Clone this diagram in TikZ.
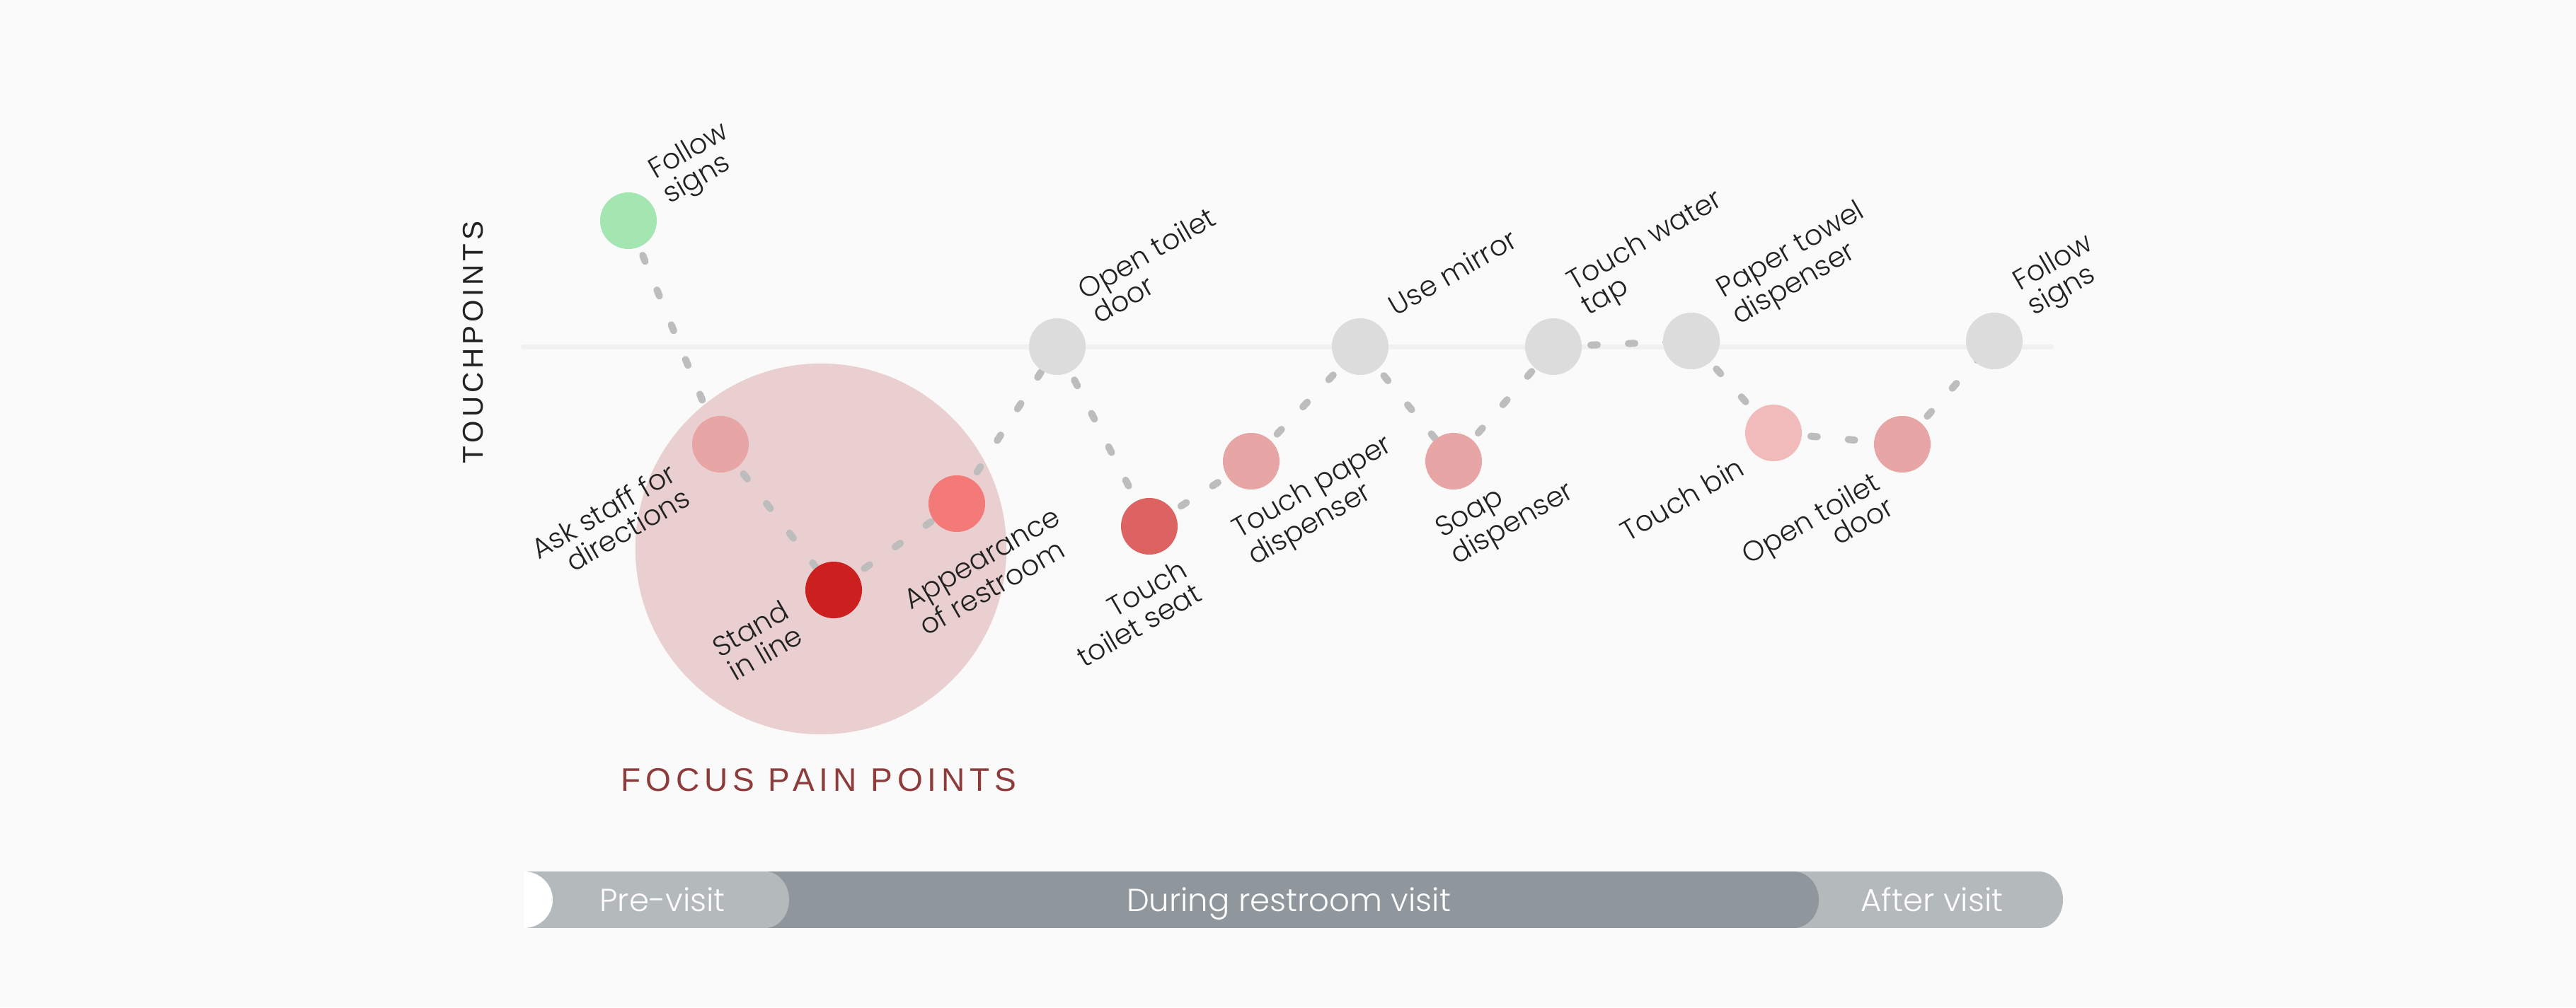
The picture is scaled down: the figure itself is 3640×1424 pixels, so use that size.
\documentclass[tikz,border=0pt]{standalone}
\usepackage{fontspec}
\IfFontExistsTF{Poppins Light}{\setmainfont{Poppins Light}}{\setmainfont{Poppins}}
\newfontfamily\capsA[LetterSpace=12]{Liberation Sans}
\newfontfamily\capsB[LetterSpace=15]{Liberation Sans}
\usetikzlibrary{calc}
\pgfdeclarelayer{back}
\pgfdeclarelayer{mid}
\pgfsetlayers{back,mid,main}
\definecolor{bgc}{HTML}{FAFAFA}
\definecolor{cgreen}{HTML}{A3E6B1}
\definecolor{cpink}{HTML}{E8A5A6}
\definecolor{cred}{HTML}{CC1F20}
\definecolor{csalmon}{HTML}{F47A7A}
\definecolor{cgrey}{HTML}{DCDCDC}
\definecolor{cseat}{HTML}{DD6262}
\definecolor{cbin}{HTML}{F2BBBB}
\definecolor{cfocus}{HTML}{EACFD0}
\definecolor{cdash}{HTML}{BDBDBD}
\definecolor{chline}{HTML}{F1F1F1}
\definecolor{cfocustxt}{HTML}{8E3B3B}
\definecolor{clight}{HTML}{B4B9BB}
\definecolor{cdark}{HTML}{8F979C}
\definecolor{ctxt}{HTML}{222222}
\begin{document}
\begin{tikzpicture}[x=0.01cm,y=-0.01cm,
  dot/.style={circle,minimum size=0.8cm,inner sep=0pt,draw=none},
  lbl/.style={rotate=30,inner sep=0pt,text=ctxt,font=\fontsize{11.3}{11.3}\selectfont},
  conn/.style={draw=cdash,line width=0.1cm,line cap=round,dash pattern=on 0.09cm off 0.44cm},
  bartxt/.style={text=white,inner sep=0pt,font=\fontsize{12.8}{13}\selectfont,anchor=base}]
\useasboundingbox (0,0) rectangle (3640,1424);
\begin{pgfonlayer}{back}
\fill[bgc] (0,0) rectangle (3640,1424);
\draw[chline,line width=0.07cm,line cap=round] (740,490) -- (2899,490);
\node[circle,fill=cfocus,minimum size=5.24cm,inner sep=0pt] (focus) at (1160,776) {};
% phase bar
\fill[clight] (2534,1232) rectangle (2881,1312);
\fill[clight] (2881,1272) ellipse [x radius=34, y radius=40];
\fill[cdark] (1081,1232) rectangle (2534,1312);
\fill[cdark] (2534,1272) ellipse [x radius=36, y radius=40];
\fill[clight] (740,1232) rectangle (1081,1312);
\fill[clight] (1081,1272) ellipse [x radius=34, y radius=40];
\fill[white] (740,1232) arc[start angle=-90,end angle=90,x radius=41,y radius=40] -- cycle;
\end{pgfonlayer}
% touchpoints
\node[dot,fill=cgreen] (fs1) at (888,312) {};
\node[dot,fill=cpink] (as) at (1018,628) {};
\node[dot,fill=cred] (sl) at (1178,834) {};
\node[dot,fill=csalmon] (ap) at (1352,712) {};
\node[dot,fill=cgrey] (od1) at (1494,490) {};
\node[dot,fill=cseat] (ts) at (1624,744) {};
\node[dot,fill=cpink] (tp) at (1768,652) {};
\node[dot,fill=cgrey] (um) at (1922,490) {};
\node[dot,fill=cpink] (sd) at (2054,652) {};
\node[dot,fill=cgrey] (tw) at (2195,490) {};
\node[dot,fill=cgrey] (pt) at (2390,482) {};
\node[dot,fill=cbin] (tb) at (2506,612) {};
\node[dot,fill=cpink] (od2) at (2688,628) {};
\node[dot,fill=cgrey] (fs2) at (2818,482) {};
\begin{pgfonlayer}{mid}
\draw[conn] (fs1.center) -- (as.center);
\draw[conn] (as.center) -- (sl.center);
\draw[conn] (sl.center) -- (ap.center);
\draw[conn] (ap.center) -- (od1.center);
\draw[conn] (od1.center) -- (ts.center);
\draw[conn] (ts.center) -- (tp.center);
\draw[conn] (tp.center) -- (um.center);
\draw[conn] (um.center) -- (sd.center);
\draw[conn] (sd.center) -- (tw.center);
\draw[conn] (tw.center) -- (pt.center);
\draw[conn] (pt.center) -- (tb.center);
\draw[conn] (tb.center) -- (od2.center);
\draw[conn] (od2.center) -- (fs2.center);
\end{pgfonlayer}
% labels
\node[lbl,align=left,anchor=north west] (lfs1) at (911,228) {Follow\\signs};
\node[lbl,align=left,anchor=north west] (lod1) at (1518,398) {Open toilet\\door};
\node[lbl,anchor=north west] (lum) at (1957,421) {Use mirror};
\node[lbl,align=left,anchor=north west] (ltw) at (2209,386) {Touch water\\tap};
\node[lbl,align=left,anchor=north west] (lpt) at (2420,396) {Paper towel\\dispenser};
\node[lbl,align=left,anchor=north west] (lfs2) at (2839,386) {Follow\\signs};
\node[lbl,align=left,anchor=north west] (lap) at (1273,838) {Appearance\\of restroom};
\node[lbl,align=left,anchor=north west] (ltp) at (1736,736) {Touch paper\\dispenser};
\node[lbl,align=left,anchor=north west] (lsd) at (2023,736) {Soap\\dispenser};
\node[lbl,align=right,anchor=north east] (las) at (943,651) {Ask staff for\\directions};
\node[lbl,align=right,anchor=north east] (lsl) at (1103,846) {Stand\\in line};
\node[lbl,align=right,anchor=north east] (lts) at (1666,787) {Touch\\toilet seat};
\node[lbl,anchor=north east] (ltb) at (2453,643) {Touch bin};
\node[lbl,align=right,anchor=north east] (lod2) at (2644,664) {Open toilet\\door};
% axis and captions
\node[rotate=90,inner sep=0pt,text=ctxt,font=\capsA\fontsize{11.5}{12}\selectfont] (axis) at (669,484) {TOUCHPOINTS};
\node[inner sep=0pt,anchor=base,text=cfocustxt,font=\capsB\fontsize{13.1}{14}\selectfont] (fpp) at (1157,1118) {FOCUS PAIN POINTS};
\node[bartxt] (pre) at (936,1288) {Pre-visit};
\node[bartxt] (dur) at (1821,1288) {During restroom visit};
\node[bartxt] (aft) at (2730,1288) {After visit};
\end{tikzpicture}
\end{document}
